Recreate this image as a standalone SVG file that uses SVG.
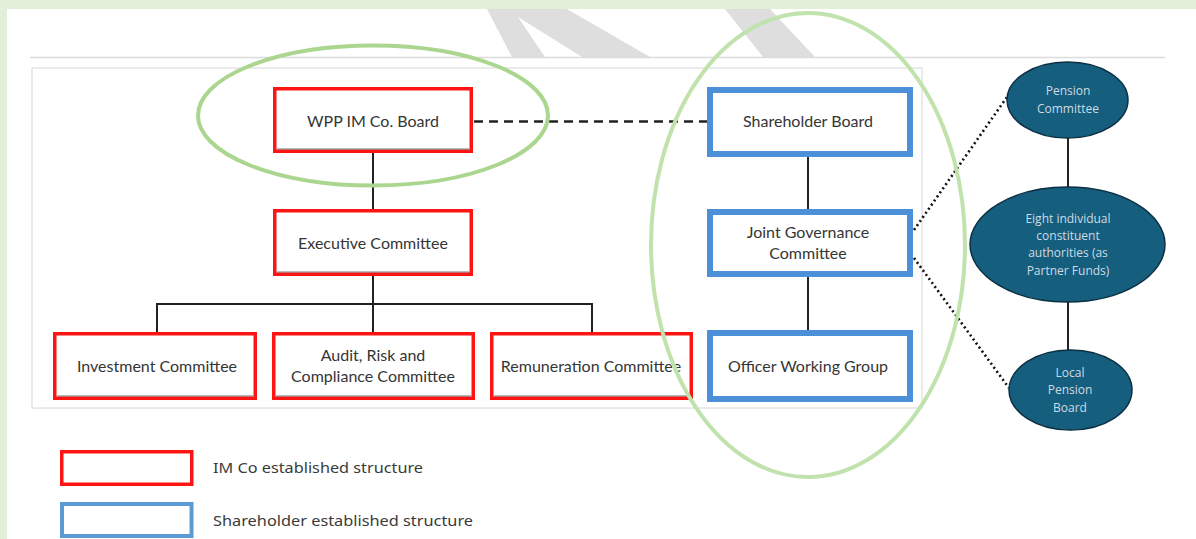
<svg xmlns="http://www.w3.org/2000/svg" width="1196" height="539" viewBox="0 0 1196 539">
<style>
.red{fill:#fff;stroke:#ff1414;stroke-width:3.5}
.blue{fill:#fff;stroke:#4d90da;stroke-width:6}
.sh{stroke:#4a4a4a;stroke-width:1.2;opacity:.75}
.t{font-family:Lato,"Noto Sans",sans-serif;font-size:16px;fill:#353535;text-anchor:middle}
.ct{font-family:"Open Sans","Noto Sans",sans-serif;font-size:12px;fill:#cfdbe3;text-anchor:middle}
.oval{fill:#155e7e;stroke:#0c3044;stroke-width:1.5}
.lg{font-family:"Noto Sans",Roboto,sans-serif;font-size:15px;fill:#3a3a3a}
.con{stroke:#222;stroke-width:2;fill:none}
.dot{stroke:#111;stroke-width:2.6;fill:none;stroke-dasharray:2 3}
.ring{fill:none;stroke-width:4}
</style>
<rect x="0" y="0" width="1196" height="539" fill="#fff"/>
<rect x="0" y="0" width="1196" height="9" fill="#e2efd9"/>
<rect x="0" y="0" width="7" height="539" fill="#e2efd9"/>
<g id="watermark" fill="#dedede">
<polygon points="487,9 567,9 650,57 582,57 518,17 545,57 512,57"/>
<polygon points="725,9 770,9 815,57 763,57"/>
</g>
<line x1="30" y1="57.5" x2="1165" y2="57.5" stroke="#dcdcdc" stroke-width="1.5"/>
<rect x="32" y="68" width="890" height="340" fill="#fff" stroke="#e4e4e4" stroke-width="1.5"/>
<g id="connectors">
<line class="con" x1="373" y1="153" x2="373" y2="209"/>
<line class="con" x1="373" y1="275" x2="373" y2="332"/>
<polyline class="con" points="157,332 157,304 592,304 592,332"/>
<line class="con" x1="808" y1="157" x2="808" y2="209"/>
<line class="con" x1="808" y1="277" x2="808" y2="330"/>
<line x1="474" y1="121.5" x2="707" y2="121.5" stroke="#222" stroke-width="2.4" stroke-dasharray="9 6"/>
<line class="dot" x1="914" y1="230" x2="1007" y2="97"/>
<line class="dot" x1="914" y1="258" x2="1009" y2="388"/>
<line class="con" x1="1068" y1="138" x2="1068" y2="187"/>
<line class="con" x1="1068" y1="302" x2="1068" y2="350"/>
</g>
<g id="wpp-board">
<rect class="red" x="274.75" y="88.75" width="196.5" height="62.5"/>
<line class="sh" x1="277" y1="149" x2="469" y2="149"/>
<text class="t" x="373" y="127">WPP IM Co. Board</text>
</g>
<g id="executive-committee">
<rect class="red" x="274.75" y="210.75" width="196.5" height="63.5"/>
<line class="sh" x1="277" y1="272" x2="469" y2="272"/>
<text class="t" x="373" y="249">Executive Committee</text>
</g>
<g id="investment-committee">
<rect class="red" x="54.75" y="333.75" width="200.5" height="64.5"/>
<line class="sh" x1="57" y1="396" x2="253" y2="396"/>
<text class="t" x="157" y="372">Investment Committee</text>
</g>
<g id="audit-committee">
<rect class="red" x="273.75" y="333.75" width="199.5" height="64.5"/>
<line class="sh" x1="276" y1="396" x2="471" y2="396"/>
<text class="t" x="373" y="361">Audit, Risk and</text>
<text class="t" x="373" y="382">Compliance Committee</text>
</g>
<g id="remuneration-committee">
<rect class="red" x="491.75" y="333.75" width="199.5" height="64.5"/>
<line class="sh" x1="494" y1="396" x2="689" y2="396"/>
<text class="t" x="591" y="372">Remuneration Committee</text>
</g>
<g id="shareholder-board">
<rect class="blue" x="710" y="90" width="200" height="64"/>
<text class="t" x="808" y="127">Shareholder Board</text>
</g>
<g id="joint-governance-committee">
<rect class="blue" x="710" y="212" width="200" height="62"/>
<text class="t" x="808" y="238">Joint Governance</text>
<text class="t" x="808" y="259">Committee</text>
</g>
<g id="officer-working-group">
<rect class="blue" x="710" y="333" width="200" height="66"/>
<text class="t" x="808" y="372">Officer Working Group</text>
</g>
<g id="highlight-left">
<ellipse class="ring" cx="373" cy="115.5" rx="175" ry="70" stroke="#abd690"/>
</g>
<g id="highlight-right">
<ellipse class="ring" cx="808" cy="245" rx="157" ry="232" stroke="#c0e3ae"/>
</g>
<g id="pension-committee">
<ellipse class="oval" cx="1067.5" cy="100" rx="60.5" ry="38"/>
<text class="ct" x="1068" y="95">Pension</text>
<text class="ct" x="1068" y="113">Committee</text>
</g>
<g id="constituent-authorities">
<ellipse class="oval" cx="1067.5" cy="244.5" rx="97.5" ry="57.5"/>
<text class="ct" x="1068" y="223">Eight individual</text>
<text class="ct" x="1068" y="240">constituent</text>
<text class="ct" x="1068" y="257">authorities (as</text>
<text class="ct" x="1068" y="275">Partner Funds)</text>
</g>
<g id="local-pension-board">
<ellipse class="oval" cx="1070.5" cy="390" rx="61.5" ry="40"/>
<text class="ct" x="1070" y="377">Local</text>
<text class="ct" x="1070" y="394">Pension</text>
<text class="ct" x="1070" y="412">Board</text>
</g>
<g id="legend">
<rect x="61.75" y="451.75" width="130" height="32.5" fill="#fff" stroke="#ff1414" stroke-width="3.5"/>
<text class="lg" x="213" y="473" textLength="210" lengthAdjust="spacingAndGlyphs">IM Co established structure</text>
<rect x="62" y="504" width="129.5" height="32" fill="#fff" stroke="#5b9bd5" stroke-width="4"/>
<text class="lg" x="213" y="526" textLength="260" lengthAdjust="spacingAndGlyphs">Shareholder established structure</text>
</g>
</svg>
